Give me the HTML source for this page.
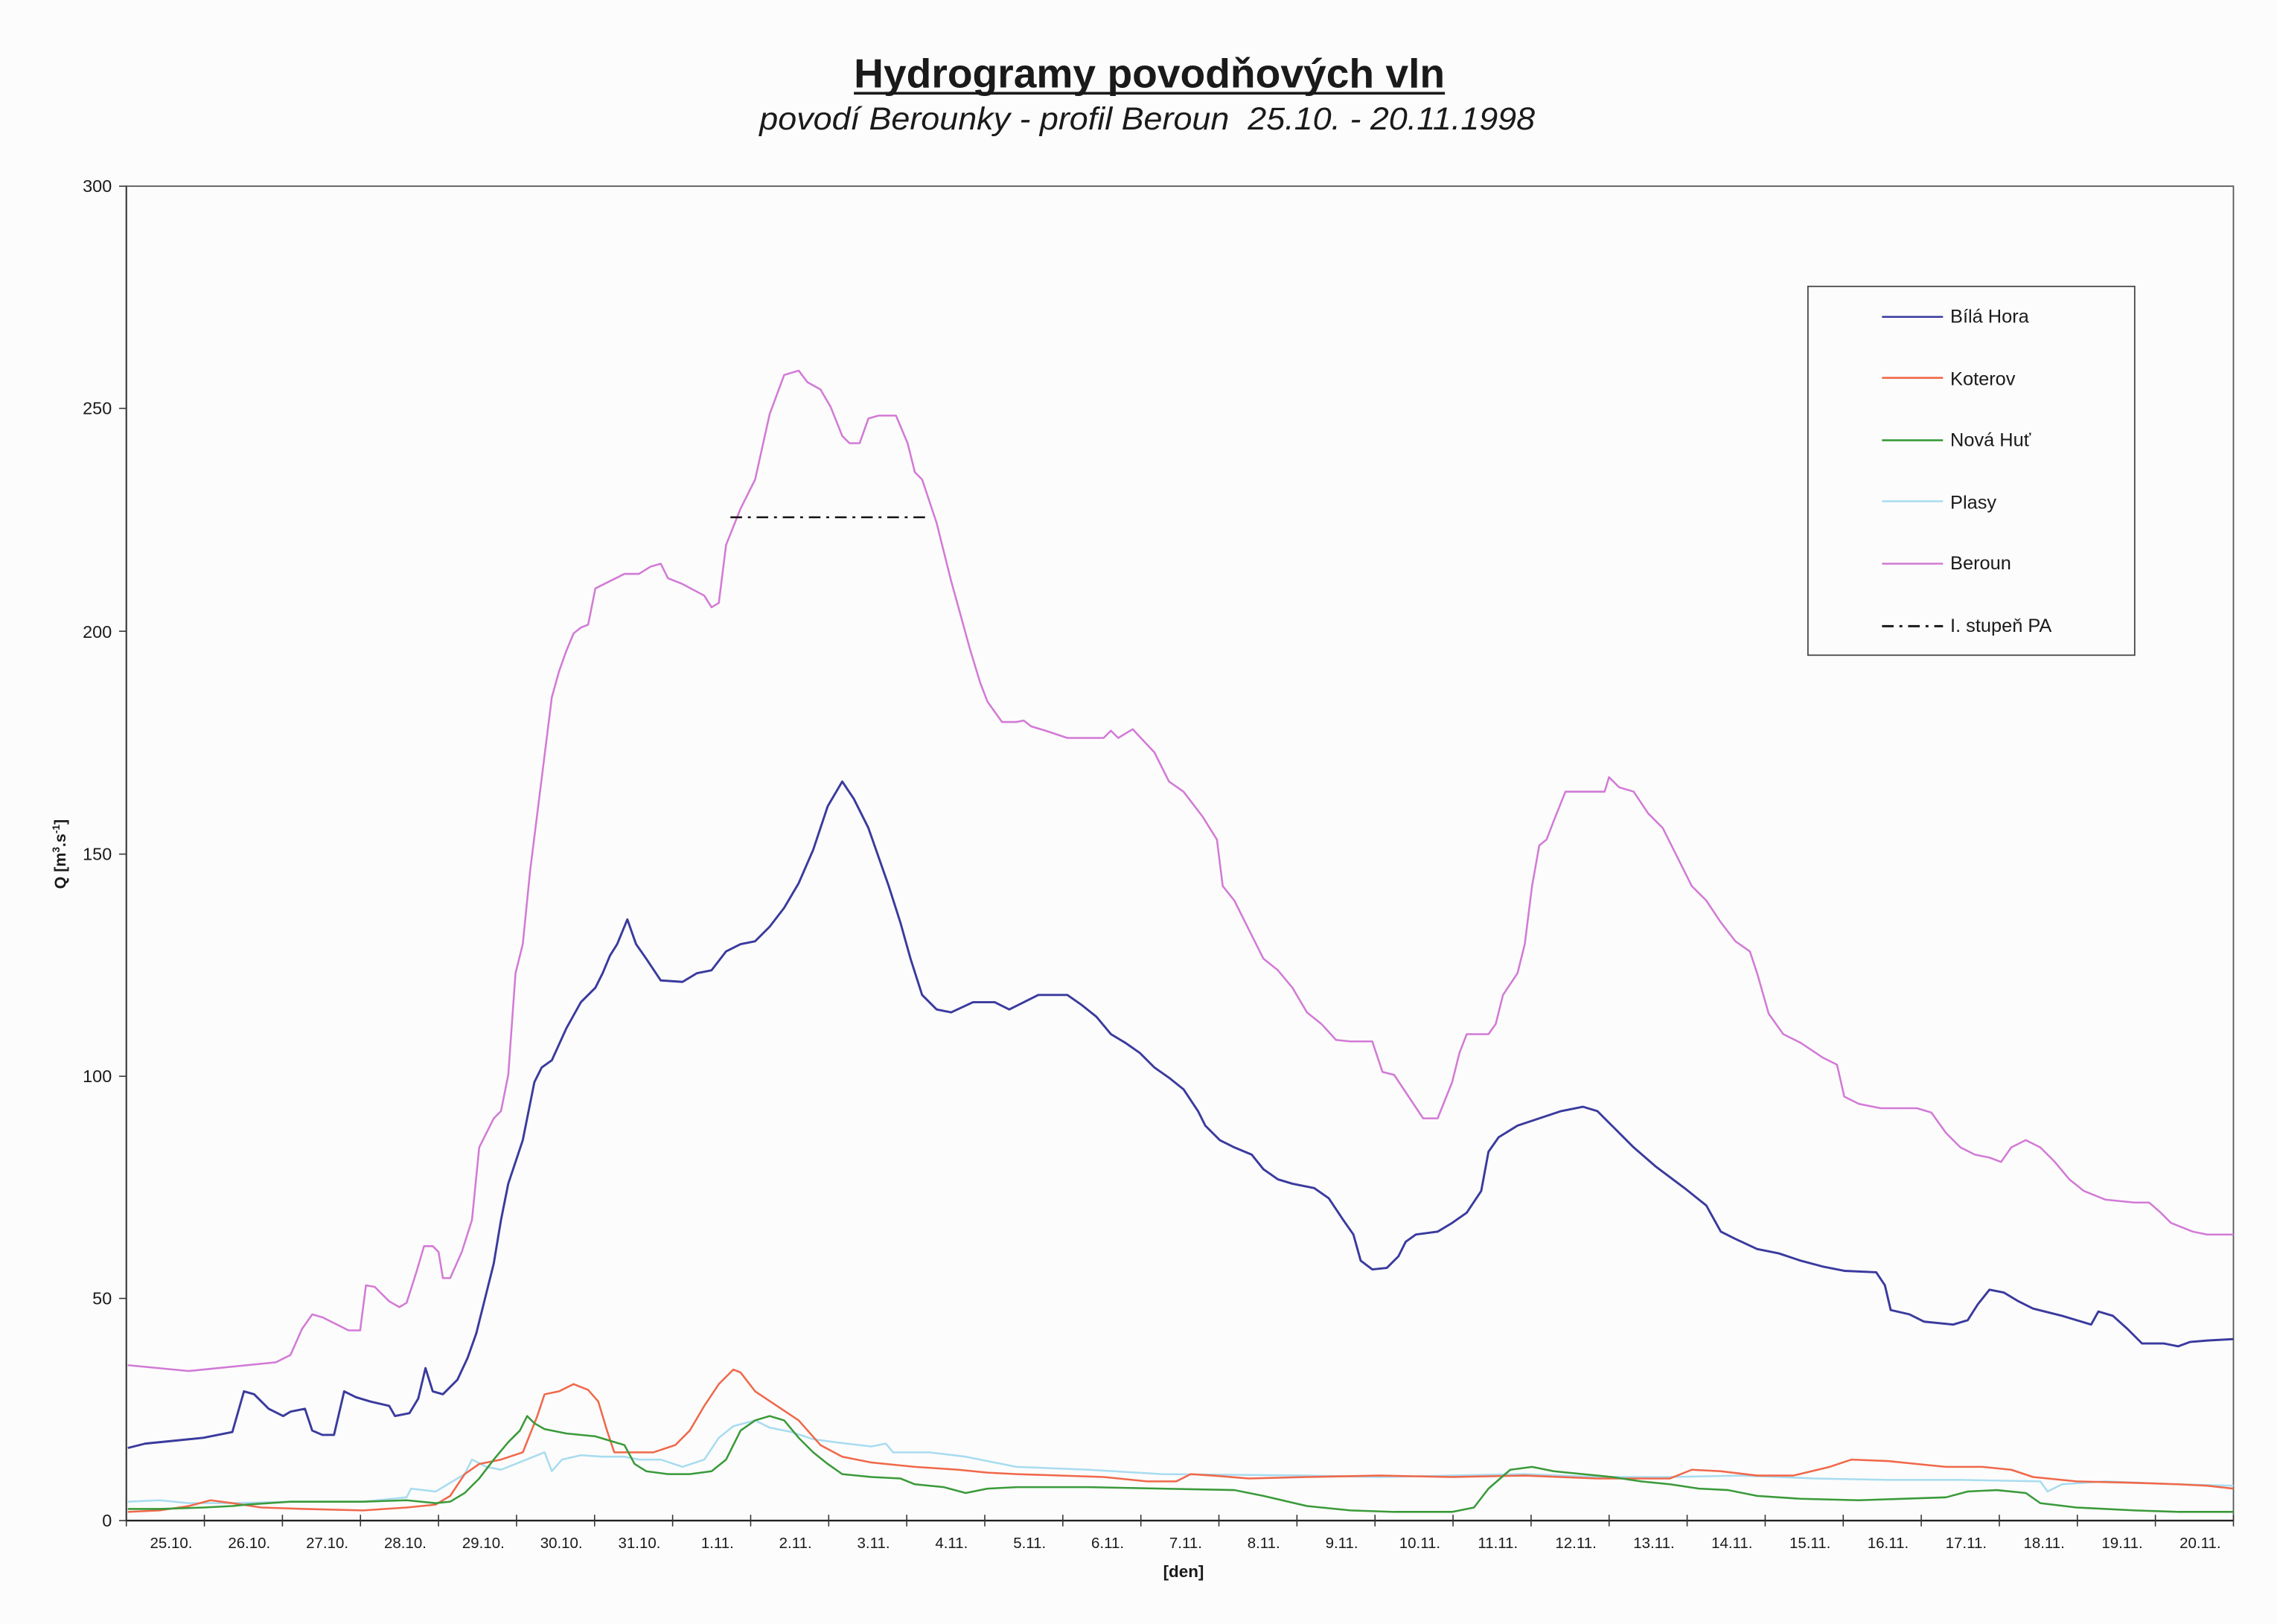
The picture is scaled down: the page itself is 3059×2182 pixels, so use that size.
<!DOCTYPE html>
<html><head><meta charset="utf-8"><style>
html,body{margin:0;padding:0;background:#fcfcfc;}
svg{display:block;}
text{font-family:"Liberation Sans",Arial,sans-serif;fill:#1a1a1a;}
</style></head><body>
<svg width="3059" height="2182" viewBox="0 0 1568 1118" xmlns="http://www.w3.org/2000/svg">
<rect width="1568" height="1118" fill="#fcfcfc"/>
<text x="588" y="60" font-size="28" font-weight="bold" textLength="407" lengthAdjust="spacingAndGlyphs">Hydrogramy povodňových vln</text>
<line x1="588" y1="64" x2="995" y2="64" stroke="#1a1a1a" stroke-width="1.8"/>
<text x="523" y="89" font-size="22" font-style="italic" textLength="534" lengthAdjust="spacingAndGlyphs" xml:space="preserve">povodí Berounky - profil Beroun  25.10. - 20.11.1998</text>
<rect x="87" y="128" width="1451" height="919" fill="none" stroke="#555" stroke-width="0.9"/>
<line x1="87" y1="1047" x2="1538" y2="1047" stroke="#222" stroke-width="1.2"/>
<line x1="87" y1="128" x2="87" y2="1047" stroke="#333" stroke-width="1"/>
<g font-size="12" text-anchor="end">
<text x="77" y="132">300</text><text x="77" y="285">250</text><text x="77" y="439">200</text>
<text x="77" y="592">150</text><text x="77" y="745">100</text><text x="77" y="898">50</text><text x="77" y="1051">0</text>
</g>
<g stroke="#333" stroke-width="0.8">
<line x1="82" y1="128" x2="87" y2="128"/><line x1="82" y1="281" x2="87" y2="281"/><line x1="82" y1="434.5" x2="87" y2="434.5"/>
<line x1="82" y1="588" x2="87" y2="588"/><line x1="82" y1="741" x2="87" y2="741"/><line x1="82" y1="894" x2="87" y2="894"/><line x1="82" y1="1047" x2="87" y2="1047"/>
</g>
<g stroke="#333" stroke-width="0.8" id="xt"></g>
<g font-size="10.5" text-anchor="middle" id="xl"></g>
<text x="815" y="1086" font-size="11.5" font-weight="bold" text-anchor="middle">[den]</text>
<text transform="translate(45,588) rotate(-90)" font-size="11" font-weight="bold" text-anchor="middle">Q [m<tspan font-size="7" dy="-4">3</tspan><tspan dy="4">.s</tspan><tspan font-size="7" dy="-4">-1</tspan><tspan dy="4">]</tspan></text>

<g fill="none" stroke-width="1.3" stroke-linejoin="round">
<polyline stroke="#d27ad6" points="88,940 130,944 150,942 190,938 200,933 208,915 215,905 222,907 232,912 240,916 248,916 252,885 258,886 268,896 275,900 280,897 287,875 292,858 298,858 302,862 305,880 310,880 318,862 325,840 330,790 340,770 345,765 350,740 355,670 360,650 365,600 370,560 375,520 380,480 385,462 390,448 395,436 400,432 405,430 410,405 420,400 430,395 440,395 448,390 455,388 460,398 470,402 485,410 490,418 495,415 500,375 510,350 520,330 530,285 540,258 550,255 556,263 565,268 572,280 580,300 585,305 592,305 598,288 605,286 617,286 625,305 630,325 635,330 645,360 655,400 660,418 668,447 675,470 680,483 690,497 700,497 705,496 710,500 720,503 735,508 760,508 765,503 770,508 780,502 795,518 805,538 815,545 828,562 838,578 842,610 850,620 860,640 870,660 880,668 890,680 900,697 910,705 920,716 930,717 945,717 952,738 960,740 970,755 980,770 990,770 1000,745 1005,725 1010,712 1025,712 1030,705 1035,685 1045,670 1050,650 1055,610 1060,582 1065,578 1070,565 1078,545 1090,545 1105,545 1108,535 1115,542 1125,545 1135,560 1145,570 1155,590 1165,610 1175,620 1185,635 1195,648 1205,655 1210,670 1218,698 1228,712 1240,718 1255,728 1265,733 1270,755 1280,760 1295,763 1320,763 1330,766 1340,780 1350,790 1360,795 1370,797 1378,800 1385,790 1395,785 1405,790 1415,800 1425,812 1435,820 1450,826 1470,828 1480,828 1488,835 1495,842 1510,848 1520,850 1538,850"/>
<polyline stroke="#3a3a9e" stroke-width="1.5" points="88,997 100,994 120,992 140,990 160,986 168,958 175,960 185,970 195,975 200,972 210,970 215,985 222,988 230,988 237,958 245,962 255,965 268,968 272,975 282,973 288,963 293,942 298,958 305,960 315,950 322,935 328,918 335,890 340,870 345,840 350,815 355,800 360,785 365,760 368,745 373,735 380,730 390,708 400,690 410,680 415,670 420,658 425,650 432,633 438,650 445,660 455,675 470,676 480,670 490,668 500,655 510,650 520,648 530,638 540,625 550,608 560,585 570,555 580,538 588,550 598,570 605,590 612,610 620,635 627,660 635,685 645,695 655,697 670,690 685,690 695,695 705,690 715,685 735,685 745,692 755,700 765,712 775,718 785,725 795,735 805,742 815,750 825,765 830,775 840,785 850,790 862,795 870,805 880,812 890,815 905,818 915,825 925,840 932,850 937,868 945,874 955,873 963,865 968,855 975,850 990,848 1000,842 1010,835 1020,820 1025,793 1032,783 1045,775 1060,770 1075,765 1090,762 1100,765 1110,775 1125,790 1140,803 1160,818 1175,830 1185,848 1195,853 1210,860 1225,863 1240,868 1255,872 1270,875 1292,876 1298,885 1302,902 1315,905 1325,910 1345,912 1355,909 1362,898 1370,888 1380,890 1390,896 1400,901 1420,906 1440,912 1445,903 1455,906 1465,915 1475,925 1490,925 1500,927 1508,924 1520,923 1538,922"/>
<polyline stroke="#a8dcf0" points="88,1034 110,1033 130,1035 160,1035 200,1034 250,1034 280,1031 283,1025 300,1027 320,1015 325,1005 335,1010 345,1012 355,1008 375,1000 380,1013 387,1005 400,1002 415,1003 430,1003 440,1005 455,1005 470,1010 485,1005 495,990 505,982 520,978 530,983 545,986 560,991 575,993 600,996 610,994 615,1000 640,1000 665,1003 700,1010 750,1012 800,1015 900,1016 950,1017 1000,1016 1050,1015 1100,1017 1150,1017 1200,1016 1250,1018 1300,1019 1350,1019 1405,1020 1410,1027 1420,1022 1450,1020 1500,1022 1538,1023"/>
<polyline stroke="#f0684a" points="88,1041 110,1040 130,1037 145,1033 160,1035 180,1038 210,1039 250,1040 280,1038 300,1036 310,1030 320,1015 330,1008 345,1005 360,1000 370,975 375,960 385,958 395,953 405,957 412,965 418,985 423,1000 435,1000 450,1000 465,995 475,985 485,968 495,953 505,943 510,945 520,958 535,968 550,978 565,995 580,1003 600,1007 630,1010 660,1012 680,1014 700,1015 760,1017 790,1020 810,1020 820,1015 835,1016 860,1018 900,1017 950,1016 1000,1017 1050,1016 1100,1018 1150,1018 1165,1012 1185,1013 1210,1016 1235,1016 1260,1010 1275,1005 1300,1006 1320,1008 1340,1010 1365,1010 1385,1012 1400,1017 1430,1020 1470,1021 1500,1022 1520,1023 1538,1025"/>
<polyline stroke="#3a9a3a" points="88,1039 110,1039 140,1038 160,1037 170,1036 200,1034 250,1034 280,1033 300,1035 310,1034 320,1028 330,1018 340,1005 350,993 358,985 363,975 368,980 375,984 390,987 410,989 420,992 430,995 437,1008 445,1013 460,1015 475,1015 490,1013 500,1005 510,985 520,978 530,975 540,978 550,990 560,1000 570,1008 580,1015 600,1017 620,1018 630,1022 650,1024 665,1028 680,1025 700,1024 750,1024 800,1025 850,1026 870,1030 900,1037 930,1040 960,1041 1000,1041 1015,1038 1025,1025 1040,1012 1055,1010 1070,1013 1090,1015 1110,1017 1130,1020 1150,1022 1170,1025 1190,1026 1210,1030 1240,1032 1280,1033 1340,1031 1355,1027 1375,1026 1395,1028 1405,1035 1430,1038 1470,1040 1500,1041 1538,1041"/>
<line x1="503" y1="356" x2="640" y2="356" stroke="#111" stroke-width="1.3" stroke-dasharray="8,4,2,4"/>
</g>

<rect x="1245" y="197" width="225" height="254" fill="#fcfcfc" stroke="#444" stroke-width="0.9"/>
<g font-size="13">
<line x1="1296" y1="218" x2="1338" y2="218" stroke="#3a3a9e" stroke-width="1.3"/><text x="1343" y="222">Bílá Hora</text>
<line x1="1296" y1="260" x2="1338" y2="260" stroke="#f0684a" stroke-width="1.3"/><text x="1343" y="265">Koterov</text>
<line x1="1296" y1="303" x2="1338" y2="303" stroke="#3a9a3a" stroke-width="1.3"/><text x="1343" y="307">Nová Huť</text>
<line x1="1296" y1="345" x2="1338" y2="345" stroke="#a8dcf0" stroke-width="1.3"/><text x="1343" y="350">Plasy</text>
<line x1="1296" y1="388" x2="1338" y2="388" stroke="#d27ad6" stroke-width="1.3"/><text x="1343" y="392">Beroun</text>
<line x1="1296" y1="431" x2="1338" y2="431" stroke="#111" stroke-width="1.5" stroke-dasharray="8,4,2,4"/><text x="1343" y="435">I. stupeň PA</text>
</g>
<script>
(function(){var ns="http://www.w3.org/2000/svg";var t=document.getElementById("xt"),l=document.getElementById("xl");
var labs=["25.10.","26.10.","27.10.","28.10.","29.10.","30.10.","31.10.","1.11.","2.11.","3.11.","4.11.","5.11.","6.11.","7.11.","8.11.","9.11.","10.11.","11.11.","12.11.","13.11.","14.11.","15.11.","16.11.","17.11.","18.11.","19.11.","20.11."];
var w=(1538-87)/27;
for(var i=0;i<=27;i++){var x=87+i*w;var ln=document.createElementNS(ns,"line");ln.setAttribute("x1",x);ln.setAttribute("x2",x);ln.setAttribute("y1",1043);ln.setAttribute("y2",1051);t.appendChild(ln);}
for(var i=0;i<27;i++){var tx=document.createElementNS(ns,"text");tx.setAttribute("x",87+i*w+w/2+4);tx.setAttribute("y",1066);tx.textContent=labs[i];l.appendChild(tx);}
})();
</script>
</svg>
</body></html>
